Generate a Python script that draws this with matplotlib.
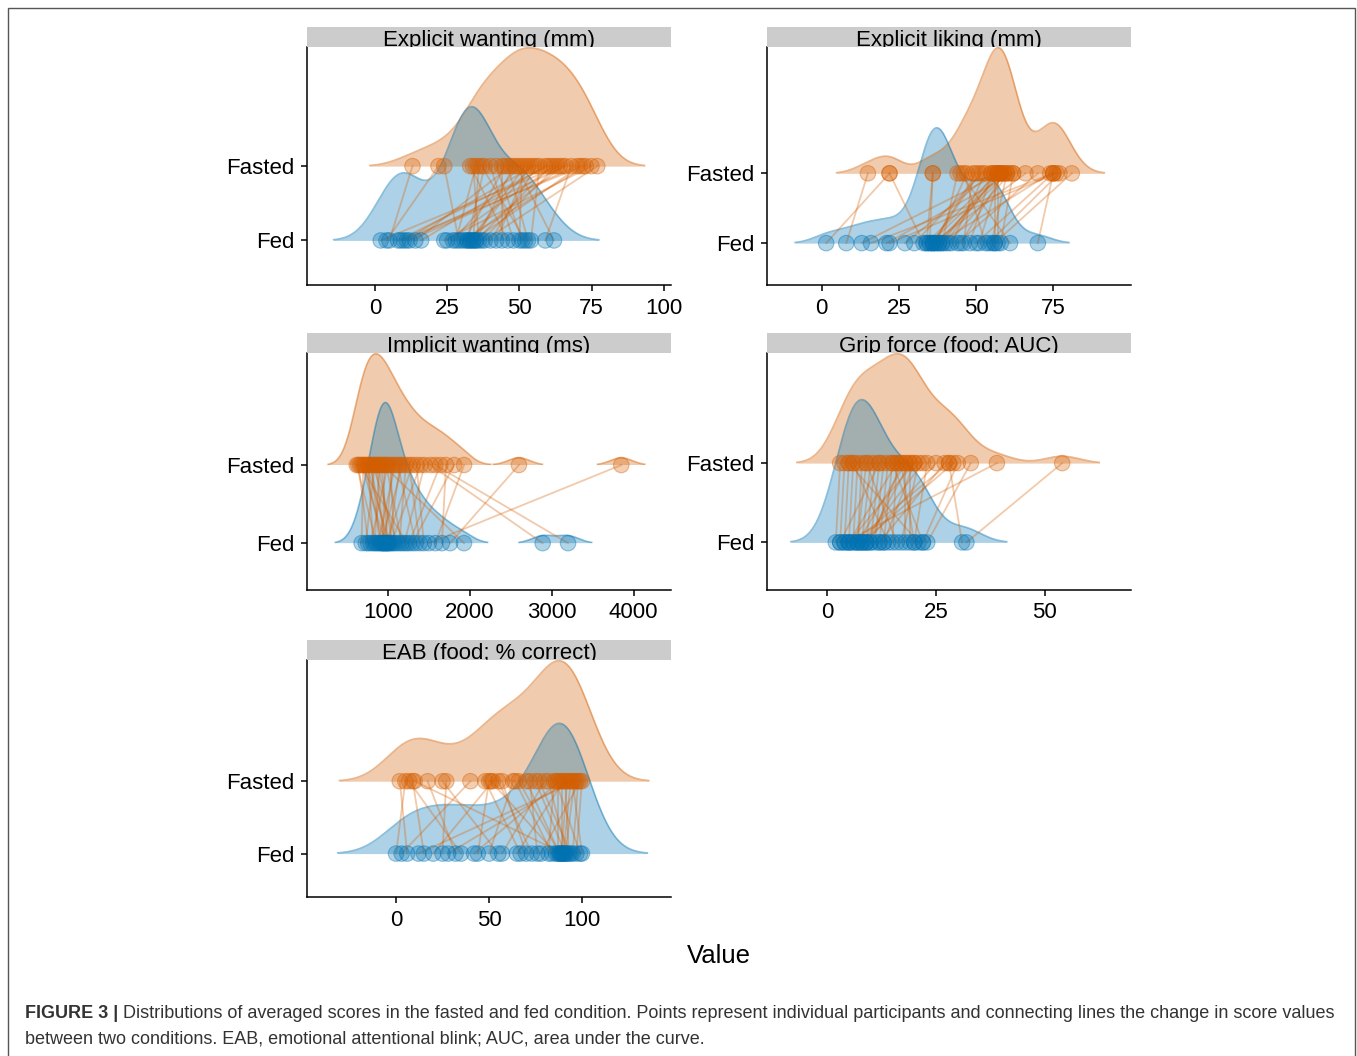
import numpy as np
import matplotlib.pyplot as plt
from matplotlib.patches import Rectangle

plt.rcParams["font.family"] = ["Liberation Sans", "DejaVu Sans"]

# ---------------- data (one value per participant) ----------------
titles = [
    "Explicit wanting (mm)",
    "Explicit liking (mm)",
    "Implicit wanting (ms)",
    "Grip force (food; AUC)",
    "EAB (food; % correct)",
]
conditions = ["Fed", "Fasted"]

fed_wanting = [2, 4, 5, 8, 9, 10, 11, 12, 14, 16, 24, 25, 27, 28, 29, 30, 31, 32, 32, 33,
               33, 34, 34, 35, 35, 36, 37, 38, 40, 42, 44, 46, 48, 50, 51, 52, 53, 54, 59, 62]
fasted_wanting = [64, 22, 13, 60, 72, 55, 66, 70, 47, 59, 75, 62, 50, 35, 24, 73, 45, 38, 65, 54,
                  52, 36, 71, 61, 48, 34, 63, 77, 56, 53, 44, 33, 40, 51, 42, 37, 46, 57, 68, 49]

fed_liking = [1.5, 8, 13, 16, 21, 22, 27, 30, 33, 34, 34, 35, 35, 36, 36, 37, 37, 38, 38, 39,
              39, 40, 41, 42, 44, 45, 46, 48, 50, 51, 53, 54, 55, 56, 56, 57, 58, 61, 70, 36]
fasted_liking = [22, 15, 58, 75, 62, 76, 55, 52, 22, 36, 57, 59, 36, 50, 66, 47, 60, 58, 74, 44,
                 56, 57, 61, 53, 70, 59, 49, 55, 75, 58, 46, 77, 60, 81, 56, 57, 62, 45, 75, 51]

fed_implicit = [680, 730, 760, 790, 820, 840, 860, 880, 900, 920, 930, 940, 950, 960, 970,
                980, 990, 1000, 1010, 1020, 1040, 1060, 1080, 1110, 1140, 1170, 1200, 1230,
                1260, 1300, 1340, 1390, 1440, 1500, 1580, 1660, 1760, 1930, 2890, 3200]
fasted_implicit = [700, 840, 640, 1000, 760, 900, 620, 1090, 800, 1180, 720, 960, 860, 1060,
                   680, 1300, 780, 920, 1150, 740, 1400, 880, 1030, 820, 1220, 980, 1450, 660,
                   1640, 1810, 1120, 1260, 1350, 3850, 1930, 1710, 2600, 940, 1520, 1580]

fed_grip = [2, 3, 3, 4, 4, 5, 5, 5, 6, 6, 7, 7, 7, 8, 8, 8, 9, 9, 9, 10,
            10, 11, 12, 12, 13, 13, 14, 15, 16, 17, 18, 19, 20, 20, 21, 22, 22, 23, 31, 32]
fasted_grip = [3, 4, 12, 5, 39, 6, 16, 20, 7, 28, 8, 18, 9, 10, 22, 29, 11, 19, 25, 12,
               17, 13, 14, 27, 15, 20, 6, 16, 9, 21, 18, 19, 17, 23, 5, 30, 15, 33, 28, 54]

fed_eab = [0, 3, 6, 12, 15, 20, 25, 28, 32, 35, 42, 44, 50, 55, 57, 65, 67, 70, 73, 76,
           78, 82, 84, 86, 87, 88, 88, 89, 89, 90, 90, 91, 91, 92, 93, 94, 95, 97, 99, 100]
fasted_eab = [5, 40, 2, 97, 9, 52, 27, 93, 17, 7, 88, 50, 63, 25, 80, 90, 48, 57, 55, 72,
              99, 85, 64, 51, 87, 66, 70, 89, 92, 10, 94, 75, 96, 82, 91, 77, 98, 100, 86, 95]

bandwidths = [6.6, 4.6, 135, 4.0, 13.0]
xticks = [
    [0, 25, 50, 75, 100],
    [0, 25, 50, 75],
    [1000, 2000, 3000, 4000],
    [0, 25, 50],
    [0, 50, 100],
]

# ---------------- style ----------------
BLUE = "#0072B2"
ORANGE = "#D55E00"
SCALE = 1.8          # ridge height of the tallest density, in row units
W, H = 1357, 1056

# panel boxes in pixels: left, top, right, bottom of the plotting area
boxes = [
    (307, 47, 671, 285),
    (767, 47, 1131, 285),
    (307, 353, 671, 590),
    (767, 353, 1131, 590),
    (307, 660, 671, 897),
]
strip_px = 20


def kde(values, bw, grid):
    v = np.asarray(values, dtype=float)[:, None]
    z = (grid[None, :] - v) / bw
    return np.exp(-0.5 * z ** 2).sum(axis=0) / (len(values) * bw * np.sqrt(2 * np.pi))


def rgba(hex_col, a):
    c = plt.matplotlib.colors.to_rgb(hex_col)
    return (c[0], c[1], c[2], a)


def draw_panel(ax, sax, title, fed, fasted, bw, ticks):
    # densities: fasted ridge first (behind), fed ridge on top
    curves = []
    for vals in (fasted, fed):
        grid = np.linspace(min(vals) - 3 * bw, max(vals) + 3 * bw, 512)
        curves.append((grid, kde(vals, bw, grid)))
    top = max(d.max() for _, d in curves)
    tops = []
    for (grid, dens), base, col in zip(curves, (2, 1), (ORANGE, BLUE)):
        h = dens / top * SCALE
        keep = h > 0.005 * SCALE
        ax.fill_between(grid, base, base + h, where=keep, color=col, alpha=0.32,
                        lw=0, zorder=1)
        ax.plot(grid, np.where(keep, base + h, np.nan), color=col, alpha=0.45,
                lw=1.2, zorder=1.5)
        tops.append(base + h.max())

    # connecting lines per participant
    for f, s in zip(fed, fasted):
        ax.plot([f, s], [1, 2], color=ORANGE, alpha=0.33, lw=1.3, zorder=2)

    n = len(fed)
    ax.scatter(fed, [1] * n, s=125, facecolors=[rgba(BLUE, 0.3)] * n,
               edgecolors=[rgba(BLUE, 0.4)] * n, linewidths=0.8, zorder=3)
    ax.scatter(fasted, [2] * n, s=125, facecolors=[rgba(ORANGE, 0.3)] * n,
               edgecolors=[rgba(ORANGE, 0.4)] * n, linewidths=0.8, zorder=3)

    # ggplot-like limits: density range + 5 % padding
    allv = list(fed) + list(fasted)
    lo, hi = min(allv) - 3 * bw, max(allv) + 3 * bw
    pad = 0.05 * (hi - lo)
    ax.set_xlim(lo - pad, hi + pad)
    ax.set_ylim(0.4, max(tops) + 0.01)

    ax.set_xticks(ticks)
    ax.set_yticks([1, 2])
    ax.set_yticklabels(conditions)
    for side in ("top", "right"):
        ax.spines[side].set_visible(False)
    for side in ("left", "bottom"):
        ax.spines[side].set_linewidth(1.1)
        ax.spines[side].set_color("black")
    ax.tick_params(axis="both", labelsize=16, length=4, width=1.1, pad=5,
                   colors="black")

    sax.set_facecolor("#CCCCCC")
    sax.set_xticks([])
    sax.set_yticks([])
    for sp in sax.spines.values():
        sp.set_visible(False)
    sax.text(0.5, 0.06, title, ha="center", va="baseline", fontsize=16,
             transform=sax.transAxes, clip_on=True)


fed_all = [fed_wanting, fed_liking, fed_implicit, fed_grip, fed_eab]
fasted_all = [fasted_wanting, fasted_liking, fasted_implicit, fasted_grip, fasted_eab]

fig = plt.figure(figsize=(W / 100, H / 100), dpi=100)

for i, (l, t, r, b) in enumerate(boxes):
    ax = fig.add_axes([l / W, 1 - b / H, (r - l) / W, (b - t) / H])
    sax = fig.add_axes([l / W, 1 - t / H, (r - l) / W, strip_px / H])
    draw_panel(ax, sax, titles[i], fed_all[i], fasted_all[i], bandwidths[i], xticks[i])

fig.text(719 / W, 1 - 956 / H, "Value", ha="center", va="center", fontsize=18.5)

# frame around the figure
fig.patches.append(Rectangle((8 / W, -0.01), (1355 - 8) / W, 1.01 - 8 / H,
                             transform=fig.transFigure, fill=False,
                             edgecolor="#555555", lw=1.0))

# caption
cap_size = 13.0
bold = fig.text(25 / W, 1 - 1014 / H, "FIGURE 3 |", fontsize=cap_size, fontweight="bold",
                color="#333333", va="center", ha="left")
fig.canvas.draw()
ext = bold.get_window_extent(fig.canvas.get_renderer())
fig.text((ext.x1 + 5) / W, 1 - 1014 / H,
         "Distributions of averaged scores in the fasted and fed condition. Points represent "
         "individual participants and connecting lines the change in score values",
         fontsize=cap_size, color="#333333", va="center", ha="left")
fig.text(25 / W, 1 - 1039 / H,
         "between two conditions. EAB, emotional attentional blink; AUC, area under the curve.",
         fontsize=cap_size, color="#333333", va="center", ha="left")

fig.savefig("out.png", dpi=100)
